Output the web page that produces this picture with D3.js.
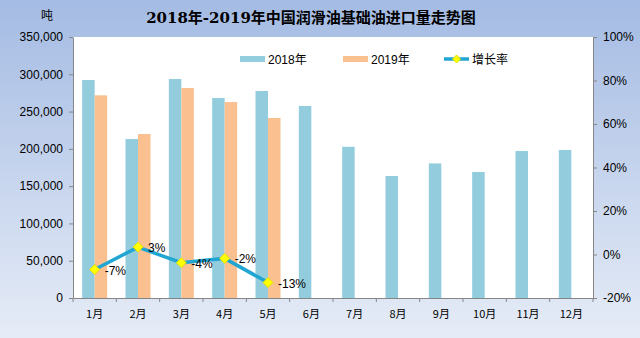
<!DOCTYPE html>
<html>
<head>
<meta charset="utf-8">
<script src="https://cdn.jsdelivr.net/npm/d3@7"></script>
<style>
  body { margin: 0; }
  svg { display: block; font-family: "Liberation Sans", Arial, "Noto Sans CJK SC", sans-serif; }
  .axis path, .axis line { stroke: #868686; }
  .axis text { fill: #000; font-size: 12px; }
</style>
</head>
<body>
<div id="chart"></div>
<script>
var months = ["1月", "2月", "3月", "4月", "5月", "6月", "7月", "8月", "9月", "10月", "11月", "12月"];
var imports2018 = [292300, 213200, 293700, 268200, 277600, 257500, 202800, 163600, 180500, 169000, 197100, 198500];
var imports2019 = [271800, 219900, 281600, 262800, 241400];
var growth = [-6.9, 3.4, -3.8, -1.8, -12.9];
var leftTicks = [0, 50000, 100000, 150000, 200000, 250000, 300000, 350000];
var rightTicks = [-20, 0, 20, 40, 60, 80, 100];

var width = 640, height = 338;
var margin = { top: 37, right: 47, bottom: 40, left: 73 };
var innerW = width - margin.left - margin.right;
var innerH = height - margin.top - margin.bottom;

var svg = d3.select("#chart").append("svg")
  .attr("width", width)
  .attr("height", height);

// background gradient
var grad = svg.append("defs").append("linearGradient")
  .attr("id", "bg").attr("x1", 0).attr("y1", 0).attr("x2", 0).attr("y2", 1);
grad.append("stop").attr("offset", "0%").attr("stop-color", "#a4bbe3");
grad.append("stop").attr("offset", "100%").attr("stop-color", "#e6ecf7");

svg.append("rect")
  .attr("width", width).attr("height", height)
  .attr("fill", "url(#bg)");

var g = svg.append("g")
  .attr("transform", "translate(" + margin.left + "," + margin.top + ")");

g.append("rect")
  .attr("width", innerW).attr("height", innerH)
  .attr("fill", "#fff");

var x = d3.scaleBand().domain(months).range([0, innerW]);
var barW = 12.5;

var yL = d3.scaleLinear().domain([0, 350000]).range([innerH, 0]);
var yR = d3.scaleLinear().domain([-20, 100]).range([innerH, 0]);

// bars
g.selectAll(".b18").data(imports2018).enter().append("rect")
  .attr("class", "b18")
  .attr("x", function (d, i) { return x(months[i]) + x.bandwidth() / 2 - barW; })
  .attr("y", function (d) { return yL(d); })
  .attr("width", barW)
  .attr("height", function (d) { return innerH - yL(d); })
  .attr("fill", "#93cddd");

g.selectAll(".b19").data(imports2019).enter().append("rect")
  .attr("class", "b19")
  .attr("x", function (d, i) { return x(months[i]) + x.bandwidth() / 2; })
  .attr("y", function (d) { return yL(d); })
  .attr("width", barW)
  .attr("height", function (d) { return innerH - yL(d); })
  .attr("fill", "#fac090");

// axes
var fmt = d3.format(",");
g.append("g").attr("class", "axis")
  .call(d3.axisLeft(yL).tickValues(leftTicks).tickFormat(function (d) { return fmt(d); }).tickSize(4).tickSizeOuter(0).tickPadding(6));

g.append("g").attr("class", "axis")
  .attr("transform", "translate(" + innerW + ",0)")
  .call(d3.axisRight(yR).tickValues(rightTicks).tickFormat(function (d) { return d + "%"; }).tickSize(4).tickSizeOuter(0).tickPadding(6));

var xAxis = g.append("g").attr("class", "axis")
  .attr("transform", "translate(0," + innerH + ")")
  .call(d3.axisBottom(x).tickSize(0).tickPadding(12));
xAxis.selectAll("text").attr("font-family", "'Noto Sans CJK SC', sans-serif").style("font-size", "11px");

// category separators on x axis
g.selectAll(".sep").data(months.concat(["end"])).enter().append("line")
  .attr("x1", function (d, i) { return i * x.step(); })
  .attr("x2", function (d, i) { return i * x.step(); })
  .attr("y1", innerH).attr("y2", innerH + 4)
  .attr("stroke", "#868686");

// growth line
var line = d3.line()
  .x(function (d, i) { return x(months[i]) + x.bandwidth() / 2; })
  .y(function (d) { return yR(d); });

g.append("path").datum(growth)
  .attr("d", line)
  .attr("fill", "none")
  .attr("stroke", "#21a6d3")
  .attr("stroke-width", 3.5);

// square diamond marker
var diamond = "M0,-5L5,0L0,5L-5,0Z";
g.selectAll(".pt").data(growth).enter().append("path")
  .attr("class", "pt")
  .attr("d", diamond)
  .attr("transform", function (d, i) { return "translate(" + (x(months[i]) + x.bandwidth() / 2) + "," + yR(d) + ")"; })
  .attr("fill", "#ffff00")
  .attr("stroke", "#e0e000")
  .attr("stroke-width", 1)
  .attr("stroke-linejoin", "round");

g.selectAll(".lbl").data(growth).enter().append("text")
  .attr("class", "lbl")
  .attr("x", function (d, i) { return x(months[i]) + x.bandwidth() / 2 + 10; })
  .attr("y", function (d) { return yR(d) + 5; })
  .attr("font-size", "12px")
  .text(function (d) { return Math.round(d) + "%"; });

// title and unit
svg.append("text")
  .attr("x", 311).attr("y", 23)
  .attr("text-anchor", "middle")
  .attr("font-family", "'DejaVu Serif', 'Noto Sans CJK SC', serif")
  .attr("font-weight", "bold")
  .attr("font-size", "15px")
  .text("2018年-2019年中国润滑油基础油进口量走势图");

svg.append("text")
  .attr("x", 47).attr("y", 20)
  .attr("text-anchor", "middle")
  .attr("font-family", "'Noto Sans CJK SC', sans-serif")
  .attr("font-size", "12px")
  .text("吨");

// legend
var legend = svg.append("g").attr("font-size", "12px");
var items = [
  { name: "2018年", type: "bar", color: "#93cddd", x: 240 },
  { name: "2019年", type: "bar", color: "#fac090", x: 343 },
  { name: "增长率", type: "line", color: "#21a6d3", x: 444 }
];
items.forEach(function (it) {
  var lg = legend.append("g").attr("transform", "translate(" + it.x + ",59)");
  if (it.type === "bar") {
    lg.append("rect").attr("x", 0).attr("y", -3).attr("width", 25).attr("height", 6).attr("fill", it.color);
  } else {
    lg.append("line").attr("x1", 0).attr("x2", 25).attr("y1", 0).attr("y2", 0)
      .attr("stroke", it.color).attr("stroke-width", 3.5);
    lg.append("path").attr("d", "M0,-4L4,0L0,4L-4,0Z").attr("transform", "translate(12.5,0)")
      .attr("fill", "#ffff00").attr("stroke", "#e0e000").attr("stroke-width", 1);
  }
  lg.append("text").attr("x", 28).attr("y", 5)
    .attr("font-family", "'Liberation Sans', 'Noto Sans CJK SC', sans-serif")
    .text(it.name);
});
</script>
</body>
</html>
